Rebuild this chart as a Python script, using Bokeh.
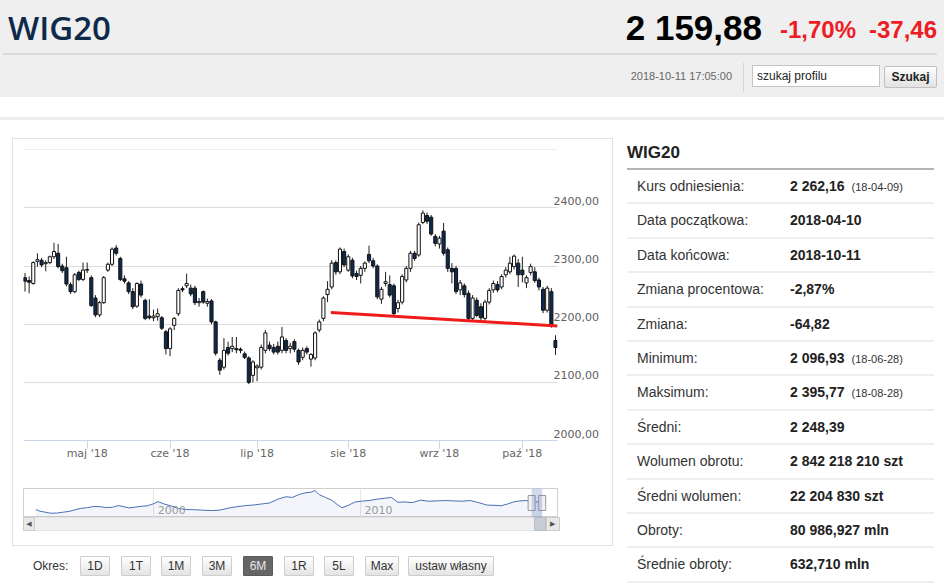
from bokeh.plotting import figure
from bokeh.models import Range1d, FixedTicker, ColumnDataSource, Div, BoxAnnotation
from bokeh.layouts import column, row
from bokeh.embed import file_html
from bokeh.resources import INLINE
from bokeh.core.properties import value

# ---------------- data ----------------
opens = [2280, 2275, 2270, 2308, 2310, 2304, 2306, 2316, 2322, 2300,
         2297, 2268, 2256, 2289, 2277, 2293, 2280, 2245, 2216, 2237,
         2293, 2303, 2331, 2313, 2278, 2271, 2256, 2231, 2269, 2241,
         2214, 2211, 2213, 2211, 2187, 2158, 2198, 2218, 2261, 2266,
         2262, 2262, 2237, 2256, 2236, 2240, 2204, 2138, 2126, 2160,
         2158, 2158, 2157, 2149, 2142, 2112, 2125, 2126, 2155, 2164,
         2160, 2162, 2155, 2172, 2158, 2170, 2155, 2143, 2158, 2140,
         2142, 2190, 2210, 2251, 2264, 2306, 2290, 2325, 2293, 2310,
         2287, 2284, 2296, 2320, 2309, 2300, 2243, 2270, 2268, 2266,
         2227, 2238, 2276, 2296, 2322, 2319, 2375, 2387, 2384, 2351,
         2338, 2360, 2328, 2296, 2296, 2259, 2266, 2253, 2210, 2241,
         2230, 2210, 2238, 2259, 2268, 2264, 2285, 2290, 2299, 2305,
         2293, 2271, 2289, 2290, 2276, 2260, 2224, 2256, 2172]
highs = [2288, 2282, 2308, 2322, 2314, 2310, 2318, 2340, 2338, 2304,
         2316, 2272, 2288, 2292, 2306, 2306, 2284, 2250, 2240, 2283,
         2306, 2332, 2336, 2316, 2284, 2274, 2262, 2272, 2275, 2244,
         2243, 2225, 2227, 2214, 2190, 2195, 2212, 2262, 2265, 2287,
         2268, 2266, 2245, 2258, 2244, 2243, 2206, 2142, 2176, 2170,
         2178, 2178, 2160, 2153, 2145, 2138, 2131, 2165, 2190, 2170,
         2166, 2170, 2195, 2176, 2168, 2174, 2158, 2160, 2162, 2150,
         2188, 2208, 2248, 2274, 2310, 2310, 2332, 2330, 2320, 2314,
         2292, 2300, 2308, 2335, 2314, 2303, 2264, 2290, 2284, 2270,
         2242, 2286, 2300, 2326, 2326, 2375, 2395.77, 2392, 2388, 2355,
         2352, 2374, 2332, 2305, 2300, 2276, 2270, 2258, 2250, 2246,
         2236, 2242, 2262, 2275, 2274, 2286, 2298, 2316, 2320, 2312,
         2316, 2284, 2304, 2298, 2280, 2264, 2266, 2262, 2181]
lows = [2256, 2253, 2268, 2299, 2298, 2291, 2303, 2312, 2296, 2288,
        2265, 2252, 2253, 2274, 2274, 2288, 2230, 2212, 2212, 2235,
        2290, 2300, 2318, 2274, 2270, 2252, 2226, 2228, 2246, 2207,
        2208, 2205, 2206, 2190, 2148, 2145, 2190, 2214, 2255, 2262,
        2248, 2233, 2230, 2235, 2230, 2200, 2146, 2113, 2122, 2146,
        2152, 2150, 2150, 2140, 2096.93, 2100, 2102, 2122, 2150, 2154,
        2148, 2148, 2150, 2150, 2150, 2152, 2130, 2138, 2148, 2127,
        2138, 2186, 2205, 2238, 2260, 2285, 2286, 2298, 2290, 2279,
        2276, 2270, 2290, 2305, 2296, 2243, 2235, 2265, 2246, 2214,
        2220, 2234, 2272, 2290, 2309, 2316, 2372, 2372, 2352, 2334,
        2330, 2318, 2290, 2270, 2252, 2250, 2246, 2205, 2206, 2212,
        2206, 2206, 2234, 2254, 2255, 2260, 2280, 2286, 2294, 2264,
        2272, 2262, 2284, 2271, 2258, 2219, 2220, 2194, 2147]
closes = [2274, 2272, 2306, 2311, 2302, 2306, 2316, 2325, 2299, 2292,
          2269, 2256, 2285, 2277, 2293, 2294, 2232, 2216, 2237, 2280,
          2303, 2329, 2322, 2277, 2274, 2256, 2230, 2270, 2250, 2210,
          2211, 2214, 2218, 2193, 2158, 2192, 2210, 2258, 2259, 2270,
          2252, 2237, 2239, 2238, 2239, 2204, 2150, 2121, 2155, 2150,
          2162, 2156, 2155, 2143, 2100, 2135, 2128, 2160, 2185, 2158,
          2152, 2152, 2178, 2155, 2162, 2157, 2135, 2155, 2152, 2148,
          2185, 2204, 2245, 2260, 2305, 2290, 2329, 2302, 2316, 2283,
          2282, 2296, 2305, 2309, 2300, 2247, 2260, 2273, 2250, 2218,
          2237, 2282, 2296, 2322, 2313, 2371, 2391, 2377, 2355, 2339,
          2348, 2322, 2296, 2290, 2256, 2271, 2251, 2210, 2245, 2215,
          2211, 2238, 2258, 2270, 2259, 2282, 2293, 2305, 2317, 2285,
          2285, 2280, 2299, 2275, 2264, 2224, 2262, 2197.34, 2159.88]

month_ticks = [15, 35, 56, 78, 100, 120]          # session index of first day of month
month_labels = ["maj '18", "cze '18", "lip '18", "sie '18", "wrz '18", "paź '18"]
y_ticks = [2000, 2100, 2200, 2300, 2400, 2500]
y_labels = ["2000,00", "2100,00", "2200,00", "2300,00", "2400,00", "2500,00"]

trend_x = [73.8, 128.5]
trend_y = [2220, 2197]

nav_years = [1994.3, 1994.5, 1994.7, 1995.0, 1995.3, 1995.6, 1995.9, 1996.2, 1996.5, 1996.8,
             1997.1, 1997.4, 1997.7, 1998.0, 1998.3, 1998.6, 1998.8, 1999.1, 1999.4, 1999.7,
             2000.0, 2000.2, 2000.5, 2000.8, 2001.2, 2001.6, 2002.0, 2002.4, 2002.8, 2003.2,
             2003.6, 2004.0, 2004.4, 2004.8, 2005.2, 2005.6, 2006.0, 2006.4, 2006.7, 2007.0,
             2007.3, 2007.6, 2007.8, 2008.0, 2008.3, 2008.6, 2008.9, 2009.1, 2009.4, 2009.7,
             2010.0, 2010.4, 2010.8, 2011.2, 2011.5, 2011.8, 2012.1, 2012.5, 2012.9, 2013.3,
             2013.7, 2014.1, 2014.5, 2014.9, 2015.3, 2015.7, 2016.1, 2016.5, 2016.8, 2017.1,
             2017.4, 2017.7, 2018.0, 2018.3, 2018.6, 2018.78]
nav_values = [1150, 900, 800, 620, 640, 760, 880, 1120, 1330, 1420,
              1600, 1560, 1430, 1480, 1730, 1520, 1380, 1500, 1620, 1700,
              2000, 2300, 1950, 1700, 1300, 1150, 1120, 1050, 1000, 1070,
              1350, 1550, 1700, 1800, 1950, 2100, 2650, 3000, 2900, 3300,
              3550, 3650, 3900, 3300, 2900, 2500, 1800, 1400, 1750, 2200,
              2350, 2450, 2650, 2800, 2900, 2200, 2250, 2150, 2500, 2350,
              2400, 2450, 2400, 2350, 2450, 2150, 1800, 1750, 1700, 1950,
              2250, 2400, 2450, 2280, 2250, 2160]
nav_grid_years = [2000, 2010]
nav_grid_labels = ["2000", "2010"]
sel_start, sel_end = 2018.27, 2018.78

table_labels = ["Kurs odniesienia:", "Data początkowa:", "Data końcowa:", "Zmiana procentowa:",
                "Zmiana:", "Minimum:", "Maksimum:", "Średni:", "Wolumen obrotu:",
                "Średni wolumen:", "Obroty:", "Średnie obroty:"]
table_values = ["2 262,16", "2018-04-10", "2018-10-11", "-2,87%", "-64,82", "2 096,93",
                "2 395,77", "2 248,39", "2 842 218 210 szt", "22 204 830 szt",
                "80 986,927 mln", "632,710 mln"]
table_notes = ["(18-04-09)", "", "", "", "", "(18-06-28)", "(18-08-28)", "", "", "", "", ""]

period_buttons = ["1D", "1T", "1M", "3M", "6M", "1R", "5L", "Max", "ustaw własny"]
active_button = "6M"

# ---------------- main candlestick chart ----------------
n = len(closes)
up_fill, down_fill = "#ffffff", "#0d2a4f"
src = ColumnDataSource(dict(
    i=list(range(n)), o=opens, h=highs, l=lows, c=closes,
    top=[max(a, b) for a, b in zip(opens, closes)],
    bottom=[min(a, b) for a, b in zip(opens, closes)],
    fill=[up_fill if c >= o else down_fill for o, c in zip(opens, closes)],
))

p = figure(width=599, height=331, x_range=Range1d(-0.36, 128.48), y_range=Range1d(2000, 2500.4),
           output_backend="svg", toolbar_location=None, y_axis_location="right",
           min_border_left=9, min_border_right=55, min_border_top=10, min_border_bottom=30,
           margin=0)
p.background_fill_color = "white"
p.border_fill_color = "white"
p.outline_line_color = None
p.xgrid.visible = False
p.ygrid.ticker = FixedTicker(ticks=y_ticks)
p.ygrid.grid_line_color = "#dcdcdc"

# labels sit ~7px above their grid lines (Highcharts style): shift label anchors by 12 points
label_lift = 12
label_pos = [t + label_lift for t in y_ticks]
p.yaxis.ticker = FixedTicker(ticks=label_pos)
p.yaxis.major_label_overrides = {t: s for t, s in zip(label_pos, y_labels)}
p.yaxis.axis_line_color = None
p.yaxis.major_tick_line_color = None
p.yaxis.minor_tick_line_color = None
p.yaxis.major_tick_out = 0
p.yaxis.major_tick_in = 0
p.yaxis.major_label_standoff = -4
p.yaxis.major_label_text_font = "DejaVu Sans"
p.yaxis.major_label_text_font_size = "11px"
p.yaxis.major_label_text_color = "#606060"

p.xaxis.ticker = FixedTicker(ticks=month_ticks)
p.xaxis.major_label_overrides = {t: s for t, s in zip(month_ticks, month_labels)}
p.xaxis.axis_line_color = "#ccd6eb"
p.xaxis.major_tick_line_color = "#ccd6eb"
p.xaxis.minor_tick_line_color = None
p.xaxis.major_tick_out = 8
p.xaxis.major_tick_in = 0
p.xaxis.major_label_standoff = -2
p.xaxis.major_label_text_font = "DejaVu Sans"
p.xaxis.major_label_text_font_size = "11px"
p.xaxis.major_label_text_color = "#666666"

p.segment(x0="i", y0="l", x1="i", y1="h", source=src, line_color="#1e1e1e", line_width=1)
p.vbar(x="i", top="top", bottom="bottom", width=0.75, fill_color="fill",
       line_color="#111111", line_width=1, source=src)
p.line(trend_x, trend_y, line_color="#f01c1c", line_width=3)

# ---------------- navigator ----------------
nav_x0, nav_x1 = 1993.7, 2019.52
nav = figure(width=599, height=47, x_range=Range1d(nav_x0, nav_x1), y_range=Range1d(0, 4190),
             output_backend="svg", toolbar_location=None, x_axis_location=None, y_axis_location=None,
             min_border_left=10, min_border_right=52, min_border_top=18, min_border_bottom=0,
             margin=0)
nav.background_fill_color = "white"
nav.border_fill_color = "white"
nav.outline_line_color = "#cfcfcf"
nav.ygrid.visible = False
nav.xgrid.ticker = FixedTicker(ticks=nav_grid_years)
nav.xgrid.grid_line_color = "#e6e6e6"
nav.varea(x=nav_years, y1=[0] * len(nav_years), y2=nav_values, fill_color="#335cad", fill_alpha=0.06)
nav.line(nav_years, nav_values, line_color="#4a6fb5", line_width=1)
nav.text(x=nav_grid_years, y=[1150] * len(nav_grid_years), text=nav_grid_labels, x_offset=4,
         text_font=value("DejaVu Sans"), text_font_size="11px", text_color="#999999",
         text_baseline="middle")
nav.add_layout(BoxAnnotation(left=sel_start, right=sel_end, fill_color="#6685c2", fill_alpha=0.3,
                             line_color=None))
nav.rect(x=[sel_start, sel_end], y=[2095, 2095], width=7, height=15, width_units="screen",
         height_units="screen", fill_color="#f2f2f2", line_color="#999999", line_width=1)

# scrollbar (HTML)
px_per_year = 537 / (nav_x1 - nav_x0)
th_left = 10 + (sel_start - nav_x0) * px_per_year
th_w = (sel_end - sel_start) * px_per_year
scroll_html = f"""
<div style="position:relative;width:599px;height:28px;overflow:hidden;">
 <div style="position:absolute;left:10px;top:0px;width:537px;height:14px;background:#f0f0f0;border:1px solid #e4e4e4;box-sizing:border-box;"></div>
 <div style="position:absolute;left:10px;top:0px;width:12px;height:14px;background:#e8e8e8;border:1px solid #cccccc;box-sizing:border-box;font:7px 'DejaVu Sans';color:#555;text-align:center;line-height:12px;">&#9664;</div>
 <div style="position:absolute;left:{th_left:.1f}px;top:0px;width:{th_w + 1:.1f}px;height:14px;background:#c8ced6;border:1px solid #b8bec6;box-sizing:border-box;"></div>
 <div style="position:absolute;left:{th_left + th_w + 1:.1f}px;top:0px;width:{547 - th_left - th_w - 1:.1f}px;height:14px;background:#e8e8e8;border:1px solid #cccccc;box-sizing:border-box;font:7px 'DejaVu Sans';color:#555;text-align:center;line-height:12px;">&#9654;</div>
</div>"""
scroll = Div(text=scroll_html, width=599, height=28, margin=0)

chart_box = column(p, nav, scroll, styles={"border": "1px solid #e2e2e2"}, margin=(0, 0, 0, 12))

# ---------------- period buttons ----------------
btn_left = [80, 121, 161, 202, 243, 284, 324, 365, 408]
btn_w = [30, 30, 30, 30, 30, 30, 30, 34, 86]
bh = ['<div style="position:relative;width:613px;height:39px;font-family:\'Liberation Sans\',Arial,sans-serif;font-size:12px;color:#333;">',
      '<div style="position:absolute;left:33px;top:10px;line-height:20px;">Okres:</div>']
for lab, l, w in zip(period_buttons, btn_left, btn_w):
    if lab == active_button:
        st = "background:#666666;color:#e8e8e8;border:1px solid #5a5a5a;"
    else:
        st = "background:linear-gradient(#ffffff,#e4e4e4);color:#333;border:1px solid #cdcdcd;"
    bh.append(f'<div style="position:absolute;left:{l}px;top:10px;width:{w}px;height:20px;box-sizing:border-box;'
              f'{st}text-align:center;line-height:18px;border-radius:1px;">{lab}</div>')
bh.append("</div>")
buttons = Div(text="".join(bh), width=613, height=39, margin=0)

left_col = column(chart_box, buttons, margin=0)

# ---------------- right table ----------------
th = ['<div style="position:relative;width:331px;height:448px;overflow:hidden;font-family:\'Liberation Sans\',Arial,sans-serif;color:#222;">',
      '<div style="position:absolute;left:14px;top:4px;line-height:22px;font-size:17px;font-weight:bold;">WIG20</div>',
      '<div style="position:absolute;left:14px;top:30px;width:307px;height:2px;background:#b4b4b4;"></div>']
pitch = 34.4
for k, (lab, val, note) in enumerate(zip(table_labels, table_values, table_notes)):
    top = 32 + pitch * k
    note_html = f'<span style="font-size:11px;font-weight:normal;color:#333;margin-left:7px;">{note}</span>' if note else ""
    th.append(f'<div style="position:absolute;left:14px;top:{top:.1f}px;width:307px;height:{pitch:.1f}px;'
              f'box-sizing:border-box;border-bottom:2px solid #eeeeee;">'
              f'<div style="position:absolute;left:10px;top:0;line-height:32px;font-size:14px;color:#333;white-space:nowrap;">{lab}</div>'
              f'<div style="position:absolute;left:163px;top:0;line-height:32px;font-size:14px;font-weight:bold;white-space:nowrap;">{val}{note_html}</div>'
              f'</div>')
th.append("</div>")
table = Div(text="".join(th), width=331, height=448, margin=0)

# ---------------- header ----------------
hdr = f"""
<div style="position:relative;width:944px;height:138px;overflow:hidden;font-family:'Liberation Sans',Arial,sans-serif;">
 <div style="position:absolute;left:0;top:0;width:944px;height:97px;background:#efefef;"></div>
 <div style="position:absolute;left:3px;top:53px;width:934px;height:2px;background:#dcdcdc;"></div>
 <div style="position:absolute;left:8px;top:8px;line-height:40px;font-family:'Open Sans';font-size:33px;font-weight:600;color:#0e2a4a;white-space:nowrap;">WIG20</div>
 <div style="position:absolute;right:182px;top:8px;line-height:40px;font-size:35px;font-weight:bold;color:#000;white-space:nowrap;">2 159,88</div>
 <div style="position:absolute;right:88px;top:10px;line-height:40px;font-size:24px;font-weight:bold;color:#ee1c25;white-space:nowrap;">-1,70%</div>
 <div style="position:absolute;right:7px;top:10px;line-height:40px;font-size:24px;font-weight:bold;color:#ee1c25;white-space:nowrap;">-37,46</div>
 <div style="position:absolute;right:212px;top:69px;line-height:14px;font-size:11px;color:#666;white-space:nowrap;">2018-10-11 17:05:00</div>
 <div style="position:absolute;left:743px;top:63px;width:1px;height:29px;background:#d4d4d4;"></div>
 <div style="position:absolute;left:752px;top:65px;width:128px;height:22px;box-sizing:border-box;border:1px solid #c4c4c4;background:#fff;font-size:12px;color:#222;padding-left:4px;line-height:20px;">szukaj profilu</div>
 <div style="position:absolute;left:884px;top:66px;width:53px;height:22px;box-sizing:border-box;border:1px solid #c0c0c0;border-radius:2px;background:linear-gradient(#fdfdfd,#e2e2e2);font-size:12px;font-weight:bold;color:#222;text-align:center;line-height:20px;">Szukaj</div>
 <div style="position:absolute;left:0;top:117px;width:944px;height:3px;background:#ececec;"></div>
</div>"""
header = Div(text=hdr, width=944, height=138, margin=0)

page = column(header, row(left_col, table, margin=0), margin=0)

open("out.html", "w").write(file_html(page, INLINE))
